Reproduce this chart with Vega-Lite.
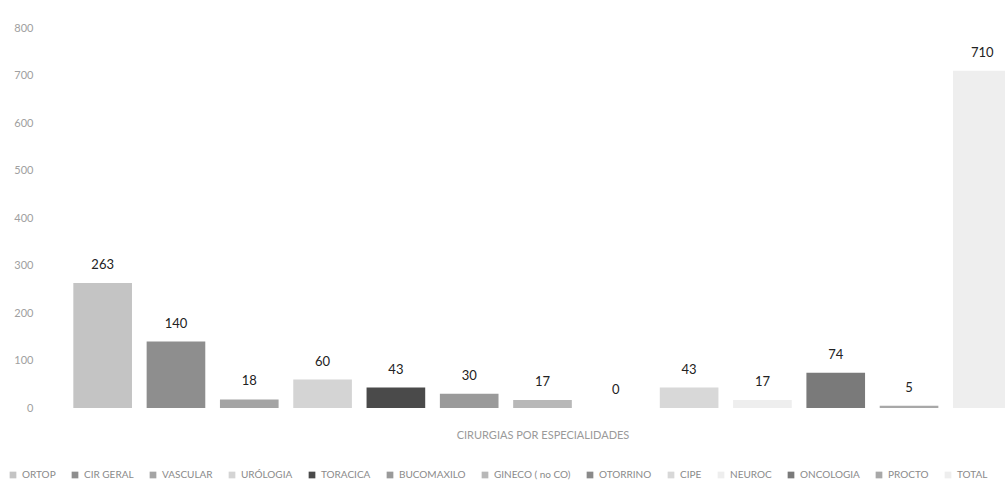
{
  "$schema": "https://vega.github.io/schema/vega-lite/v6.json",
  "autosize": {"type": "none"},
  "padding": {"left": 66, "top": 28, "right": -14, "bottom": 80},
  "width": 953,
  "height": 380,
  "background": "white",
  "title": {
    "text": "MAIO",
    "anchor": "middle",
    "dx": -39,
    "offset": 22,
    "baseline": "alphabetic",
    "fontSize": 17,
    "font": "Lato",
    "fontWeight": "normal",
    "color": "#222222"
  },
  "config": {"view": {"stroke": null}},
  "data": {
    "values": [
      {"esp": "ORTOP", "valor": 263},
      {"esp": "CIR GERAL", "valor": 140},
      {"esp": "VASCULAR", "valor": 18},
      {"esp": "URÓLOGIA", "valor": 60},
      {"esp": "TORACICA", "valor": 43},
      {"esp": "BUCOMAXILO", "valor": 30},
      {"esp": "GINECO ( no CO)", "valor": 17},
      {"esp": "OTORRINO", "valor": 0},
      {"esp": "CIPE", "valor": 43},
      {"esp": "NEUROC", "valor": 17},
      {"esp": "ONCOLOGIA", "valor": 74},
      {"esp": "PROCTO", "valor": 5},
      {"esp": "TOTAL", "valor": 710}
    ]
  },
  "encoding": {
    "x": {
      "field": "esp",
      "type": "nominal",
      "sort": null,
      "scale": {"paddingInner": 0.2, "paddingOuter": 0.1},
      "axis": {
        "labels": false,
        "ticks": false,
        "domain": false,
        "title": "CIRURGIAS POR ESPECIALIDADES",
        "titleFont": "Lato",
        "titleFontSize": 11,
        "titleFontWeight": "normal",
        "titleColor": "#9a9a9a",
        "titlePadding": 21
      }
    },
    "y": {
      "field": "valor",
      "type": "quantitative",
      "scale": {"domain": [0, 800]},
      "axis": {
        "values": [0, 100, 200, 300, 400, 500, 600, 700, 800],
        "grid": false,
        "domain": false,
        "ticks": false,
        "title": null,
        "labelPadding": 33,
        "labelFont": "Lato",
        "labelFontSize": 11,
        "labelColor": "#a0a0a0"
      }
    }
  },
  "layer": [
    {
      "mark": {"type": "bar"},
      "encoding": {
        "color": {
          "field": "esp",
          "type": "nominal",
          "sort": null,
          "scale": {
            "domain": ["ORTOP", "CIR GERAL", "VASCULAR", "URÓLOGIA", "TORACICA", "BUCOMAXILO", "GINECO ( no CO)", "OTORRINO", "CIPE", "NEUROC", "ONCOLOGIA", "PROCTO", "TOTAL"],
            "range": ["#c4c4c4", "#8e8e8e", "#a4a4a4", "#d4d4d4", "#4a4a4a", "#9a9a9a", "#b8b8b8", "#8a8a8a", "#d8d8d8", "#eeeeee", "#7a7a7a", "#a8a8a8", "#eeeeee"]
          },
          "legend": {
            "title": null,
            "orient": "none",
            "legendX": -58,
            "legendY": 442,
            "direction": "horizontal",
            "columns": 13,
            "columnPadding": 14,
            "gridAlign": "each",
            "symbolType": "square",
            "symbolSize": 45,
            "symbolStrokeWidth": 0,
            "labelFont": "Lato",
            "labelFontSize": 10,
            "labelColor": "#8a8a8a",
            "labelOffset": 4
          }
        }
      }
    },
    {
      "mark": {"type": "text", "dy": -18, "baseline": "middle", "fontSize": 13, "font": "Lato", "color": "#222222"},
      "encoding": {"text": {"field": "valor", "type": "quantitative"}}
    }
  ]
}
